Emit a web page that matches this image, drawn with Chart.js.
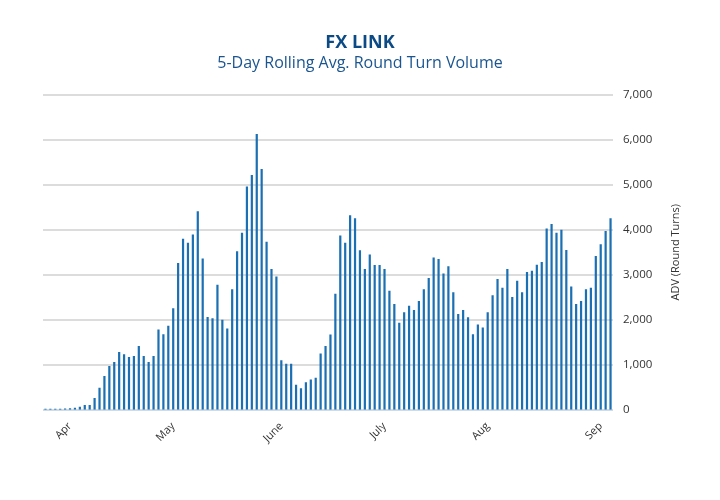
<!DOCTYPE html>
<html>
<head>
<meta charset="utf-8">
<script src="https://cdn.jsdelivr.net/npm/chart.js@4.4.0/dist/chart.umd.min.js"></script>
<style>
  html, body { margin: 0; padding: 0; background: #fff; }
  #wrap { width: 720px; height: 500px; }
</style>
</head>
<body>
<div id="wrap"><canvas id="chart" width="720" height="500"></canvas></div>
<script>
// 5-day rolling avg round turns, one bar per business day (late Mar -> early Sep)
const adv = [
  20, 20, 20, 20, 25, 30, 45, 67, 104, 104,
  261, 485, 746, 970, 1060, 1284, 1231, 1172, 1194, 1418,
  1194, 1060, 1194, 1784, 1679, 1866, 2254, 3261, 3799, 3709,
  3896, 4410, 3358, 2060, 2030, 2776, 2000, 1806, 2679, 3522,
  3933, 4963, 5216, 6127, 5351, 3731, 3127, 2963, 1097, 1022,
  1022, 552, 478, 612, 672, 709, 1246, 1418, 1672, 2575,
  3873, 3709, 4321, 4254, 3545, 3127, 3448, 3216, 3216, 3127,
  2642, 2351, 1933, 2164, 2313, 2216, 2418, 2679, 2925, 3381,
  3351, 3030, 3187, 2612, 2127, 2216, 2052, 1679, 1896, 1828,
  2164, 2545, 2903, 2709, 3127, 2507, 2866, 2612, 3060, 3090,
  3224, 3284, 4030, 4127, 3933, 4000, 3552, 2739, 2351, 2418,
  2679, 2709, 3418, 3679, 3970, 4254
];

// first business day of each month (bar index) and its label
const monthNames = ['Apr', 'May', 'June', 'July', 'Aug', 'Sep'];
const monthStart = [5, 26, 48, 69, 90, 113];

const yTicks = [0, 1000, 2000, 3000, 4000, 5000, 6000, 7000];
const yTitle = 'ADV (Round Turns)';

const labels = adv.map((v, i) => {
  const k = monthStart.indexOf(i);
  return k >= 0 ? monthNames[k] : '';
});

// right axis title reads bottom-to-top, which chart.js won't do on a right axis
const yTitlePlugin = {
  id: 'yTitle',
  afterDraw(chart) {
    const { ctx, chartArea } = chart;
    ctx.save();
    ctx.translate(676, (chartArea.top + chartArea.bottom) / 2);
    ctx.rotate(-Math.PI / 2);
    ctx.fillStyle = '#333';
    ctx.font = '11px "Open Sans"';
    ctx.textAlign = 'center';
    ctx.textBaseline = 'middle';
    ctx.fillText(yTitle, 0, 0);
    ctx.restore();
  },
};

const ctx = document.getElementById('chart');
new Chart(ctx, {
  type: 'bar',
  data: {
    labels: labels,
    datasets: [
      {
        label: 'ADV',
        data: adv,
        backgroundColor: '#1b6fb3',
        barPercentage: 0.45,
        categoryPercentage: 1.0,
      },
    ],
  },
  plugins: [yTitlePlugin],
  options: {
    responsive: false,
    animation: false,
    layout: {
      padding: { top: 16, left: 0, right: 0, bottom: 53 },
    },
    plugins: {
      legend: { display: false },
      tooltip: { enabled: false },
      title: {
        display: true,
        text: 'FX LINK',
        color: '#0b4a84',
        font: { family: 'Open Sans', size: 18, weight: 'bold' },
        padding: { top: 16, bottom: 0 },
      },
      subtitle: {
        display: true,
        text: '5-Day Rolling Avg. Round Turn Volume',
        color: '#1a5590',
        font: { family: 'Open Sans', size: 16 },
        padding: { top: 0, bottom: 22 },
      },
    },
    scales: {
      x: {
        offset: true,
        grid: { display: false },
        border: { display: false },
        ticks: {
          autoSkip: false,
          minRotation: 45,
          maxRotation: 45,
          color: '#333',
          padding: 2,
          font: { family: 'Open Sans', size: 11 },
        },
      },
      // empty left axis, only holds the left margin
      spacer: {
        position: 'left',
        axis: 'y',
        grid: { display: false },
        border: { display: false },
        ticks: { display: false },
        afterFit: (axis) => { axis.width = 43; },
      },
      y: {
        position: 'right',
        min: 0,
        max: 7000,
        afterBuildTicks: (axis) => {
          axis.ticks = yTicks.map((v) => ({ value: v }));
        },
        afterFit: (axis) => { axis.width = 107; },
        grid: {
          drawTicks: false,
          lineWidth: 2,
          color: (c) => (c.tick && c.tick.value === 0 ? '#cfdbe6' : '#dcdcdc'),
        },
        border: { display: false },
        ticks: {
          padding: 10,
          color: '#333',
          font: { family: 'Open Sans', size: 11.5 },
          callback: (v) => v.toLocaleString('en-US'),
        },
      },
    },
  },
});
</script>
</body>
</html>
